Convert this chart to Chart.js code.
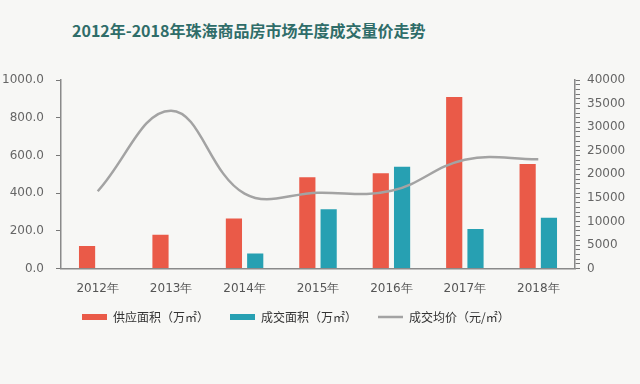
<!DOCTYPE html>
<html>
<head>
<meta charset="utf-8">
<script src="https://cdn.jsdelivr.net/npm/chart.js@4/dist/chart.umd.min.js"></script>
<style>
  html, body { margin: 0; padding: 0; background: #f7f7f5; }
  #wrap { position: relative; width: 640px; height: 384px; }
  #title { position: absolute; left: 72px; top: 20px; margin: 0; font: bold 16px "Noto Sans CJK SC", sans-serif; line-height: 20px; color: #2f6d69; white-space: nowrap; }
  canvas { position: absolute; left: 0; top: 0; }
</style>
</head>
<body>
<div id="wrap">
  <div id="title">2012年-2018年珠海商品房市场年度成交量价走势</div>
  <canvas id="c" width="640" height="384"></canvas>
</div>
<script>
const categories = ['2012年', '2013年', '2014年', '2015年', '2016年', '2017年', '2018年'];
const supplyArea = [120, 180, 265, 485, 505, 910, 555];
const dealArea = [null, null, 80, 315, 540, 210, 270];
const avgPrice = [16400, 33500, 15900, 16100, 16500, 23100, 23200];
const seriesNames = ['供应面积（万㎡）', '成交面积（万㎡）', '成交均价（元/㎡）'];

const tickFont = { family: '"DejaVu Sans", sans-serif', size: 12 };

const legendShift = {
  id: 'legendShift',
  afterLayout(chart) {
    const lg = chart.legend;
    if (lg) { lg.top -= 11; lg.bottom -= 11; }
  }
};

new Chart(document.getElementById('c'), {
  data: {
    labels: categories,
    datasets: [
      { type: 'bar', label: seriesNames[0], data: supplyArea, backgroundColor: '#ea5a48', yAxisID: 'y', order: 1, pointStyle: 'rect', categoryPercentage: 0.58, barPercentage: 0.76 },
      { type: 'bar', label: seriesNames[1], data: dealArea, backgroundColor: '#27a0b2', yAxisID: 'y', order: 2, pointStyle: 'rect', categoryPercentage: 0.58, barPercentage: 0.76 },
      { type: 'line', label: seriesNames[2], data: avgPrice, borderColor: '#a3a3a3', backgroundColor: '#a3a3a3', borderWidth: 2.5, pointRadius: 0, pointStyle: 'line', tension: 0.4, yAxisID: 'y1', order: 0 }
    ]
  },
  plugins: [legendShift],
  options: {
    responsive: false,
    animation: false,
    events: [],
    layout: { padding: { top: 80, left: 0, right: 0, bottom: 40 } },
    plugins: {
      tooltip: { enabled: false },
      title: { display: false },
      legend: {
        position: 'bottom',
        align: 'start',
        fullSize: false,
        labels: {
          usePointStyle: true,
          pointStyleWidth: 25,
          boxHeight: 6,
          padding: 21,
          color: '#333',
          font: { family: '"Noto Sans CJK SC", sans-serif', size: 12 },
          sort: (a, b) => a.datasetIndex - b.datasetIndex
        }
      }
    },
    scales: {
      x: {
        grid: { display: false },
        border: { display: true, color: '#8a8a8a', width: 1.5 },
        ticks: { color: '#555', font: tickFont, padding: 5 }
      },
      y: {
        position: 'left',
        min: 0, max: 1000,
        afterFit: s => { s.width = 61; },
        grid: { display: true, drawOnChartArea: false, drawTicks: true, tickLength: 5, color: '#777', tickColor: '#777', tickWidth: 1 },
        border: { display: true, color: '#8a8a8a', width: 1.5 },
        ticks: { stepSize: 200, color: '#666', font: tickFont, padding: 12, callback: v => v.toFixed(1) }
      },
      y1: {
        position: 'right',
        min: 0, max: 40000,
        afterFit: s => { s.width = 65; },
        grid: { display: true, drawOnChartArea: false, drawTicks: true, tickLength: 5, color: '#777', tickColor: '#777', tickWidth: 1 },
        border: { display: true, color: '#8a8a8a', width: 1.5 },
        ticks: { stepSize: 1000, autoSkip: false, maxTicksLimit: 50, color: '#666', font: tickFont, padding: 7,
          callback: v => (v % 5000 === 0 ? String(v) : '') }
      }
    }
  }
});
</script>
</body>
</html>
